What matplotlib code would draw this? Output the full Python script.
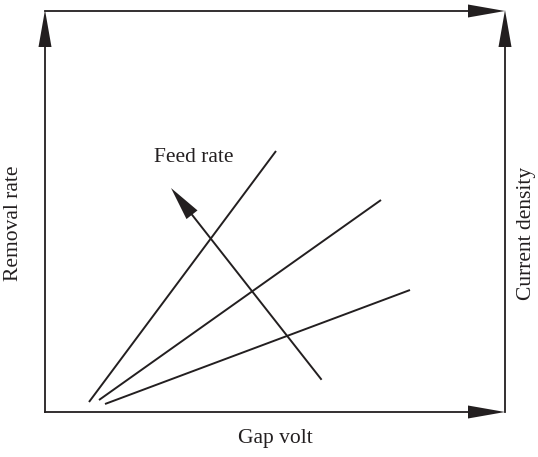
import matplotlib.pyplot as plt

# schematic lines (pixel-like data coordinates, y grows downward)
line_x0 = [89, 99, 105]
line_y0 = [402, 400, 404]
line_x1 = [276, 381, 410]
line_y1 = [151, 200, 290]

feed_start = (321, 379)
feed_tip = (171, 188)

box_left, box_right = 45, 505
box_top, box_bottom = 11, 412

fig = plt.figure(figsize=(5.38, 4.57), dpi=100)
ax = fig.add_axes([0, 0, 1, 1])
ax.set_xlim(0, 538)
ax.set_ylim(457, 0)
ax.axis('off')

c = '#231f20'
lw_axis = 1.3
lw_line = 1.4

# frame lines
ax.plot([box_left, box_left], [box_bottom, box_top + 30], color=c, lw=lw_axis)
ax.plot([box_left, box_right - 30], [box_top, box_top], color=c, lw=lw_axis)
ax.plot([box_right, box_right], [box_bottom, box_top + 30], color=c, lw=lw_axis)
ax.plot([box_left, box_right - 30], [box_bottom, box_bottom], color=c, lw=lw_axis)

def head(tip, dx, dy, length=37, half=6.5):
    # triangle head pointing along (dx, dy)
    n = (dx * dx + dy * dy) ** 0.5
    ux, uy = dx / n, dy / n
    bx, by = tip[0] - ux * length, tip[1] - uy * length
    px, py = -uy * half, ux * half
    ax.fill([tip[0], bx + px, bx - px], [tip[1], by + py, by - py],
            color=c, lw=0)

head((box_left, box_top - 1), 0, -1)
head((box_right, box_top - 1), 0, -1)
head((box_right, box_top), 1, 0)
head((box_right, box_bottom), 1, 0)

for x0, y0, x1, y1 in zip(line_x0, line_y0, line_x1, line_y1):
    ax.plot([x0, x1], [y0, y1], color=c, lw=lw_line, solid_capstyle='butt')

# feed rate arrow
ddx = feed_tip[0] - feed_start[0]
ddy = feed_tip[1] - feed_start[1]
ax.plot([feed_start[0], feed_tip[0] + ddx * -0.12], [feed_start[1], feed_tip[1] + ddy * -0.12],
        color=c, lw=lw_line)
head(feed_tip, ddx, ddy, length=34, half=7)

font = dict(family='Liberation Serif', size=15.5, color=c)
ax.text(194, 157, 'Feed rate', ha='center', va='center', **font)
ax.text(275, 439, 'Gap volt', ha='center', va='center', **font)
ax.text(14, 223, 'Removal rate', ha='center', va='center', rotation=90, **font)
ax.text(527, 233, 'Current density', ha='center', va='center', rotation=90, **font)

fig.savefig('out.png', dpi=100)
